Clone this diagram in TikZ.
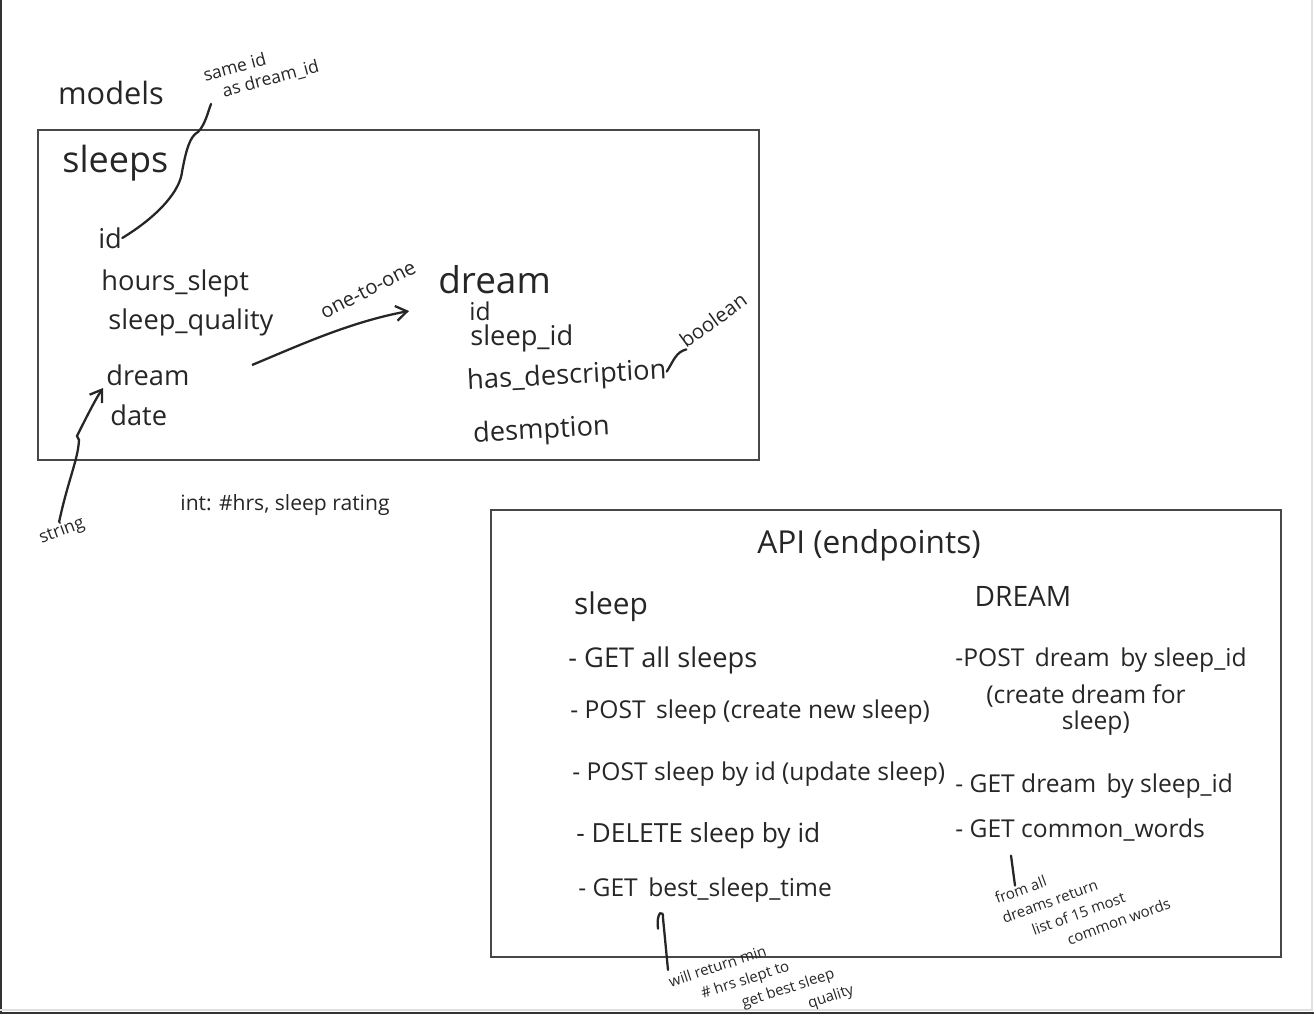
\documentclass[tikz,border=0pt]{standalone}
\usepackage{fontspec}
\setmainfont{Open Sans}
\usetikzlibrary{arrows.meta,positioning}

\begin{document}
\begin{tikzpicture}[x=0.02cm, y=-0.02cm,
  box/.style={draw=black!72, line width=1.2pt},
  title/.style={font=\fontsize{21}{23}\selectfont, text=black!85, inner sep=0pt},
  field/.style={font=\fontsize{15.5}{17}\selectfont, text=black!85, anchor=west, inner sep=0pt},
  item/.style={font=\fontsize{14}{15}\selectfont, text=black!85, anchor=west, inner sep=0pt},
  note/.style={font=\fontsize{8.5}{12}\selectfont, text=black!85, align=left, inner sep=0pt},
  arrow/.style={-{Straight Barb[length=2.2mm, width=3mm]}, line width=1.3pt, black!85},
  pen/.style={line width=1.3pt, black!85, line cap=round}
]
  \useasboundingbox (0,0) rectangle (1314,1014);
  % page edges
  \draw[black!80, line width=1.5pt] (1,0) -- (1,1014);
  \draw[black!80, line width=1.5pt] (0,1013) -- (1314,1013);
  \draw[black!12, line width=0.6pt] (1312,0) -- (1312,1010) -- (0,1010);

  % Boxes
  \draw[box] (38,130) rectangle (759,460);
  \draw[box] (491,510) rectangle (1281,957);

  % Models
  \node[title, font=\fontsize{17.5}{19}\selectfont] (models) at (111,93) {models};
  \node[note, font=\fontsize{10}{11.5}\selectfont, anchor=south west, rotate=15] (sameid) at (211,104)
    {same id\\\hspace*{0.8em}as dream\_id};
  \node[title, anchor=west, font=\fontsize{20.5}{23}\selectfont] (sleeps) at (62,163) {sleeps};

  \node[field] (sid) at (98,238) {id};
  \node[field] (hours) at (101,283) {hours\_slept};
  \node[field] (quality) at (108,322) {sleep\_quality};
  \node[field] (sdream) at (106,375) {dream};
  \node[field] (date) at (110,415) {date};

  \node[title, anchor=west] (dream) at (438,280) {dream};
  \node[field, font=\fontsize{14}{15}\selectfont] (did) at (469,311) {id};
  \node[field] (dsid) at (470,338) {sleep\_id};
  \node[field, rotate=3] (hasdesc) at (467,382) {has\_description};
  \node[field, rotate=3] (desc) at (473,435) {desmption};

  \node[note, font=\fontsize{11.5}{13}\selectfont, rotate=36] (boolean) at (713,320) {boolean};
  \node[note, font=\fontsize{11.5}{13}\selectfont, rotate=27] (onetoone) at (368,290) {one-to-one};
  \node[note, font=\fontsize{10}{12}\selectfont, rotate=20] (string) at (62,531) {string};
  \node[note, font=\fontsize{12}{13}\selectfont] (intnote) at (285,505) {int: \#hrs, sleep rating};

  % API endpoints
  \node[title, font=\fontsize{18}{20}\selectfont] (api) at (869,545) {API (endpoints)};
  \node[title, font=\fontsize{17}{19}\selectfont] (sleephead) at (611,607) {sleep};
  \node[title, font=\fontsize{16}{18}\selectfont] (dreamhead) at (1023,596) {DREAM};

  \node[item, font=\fontsize{15.5}{17}\selectfont] (getall) at (568,660) {- GET all sleeps};
  \node[item] (postsleep) at (570,712) {- POST\, sleep (create new sleep)};
  \node[item] (postid) at (572,774) {- POST sleep by id (update sleep)};
  \node[item, font=\fontsize{15}{17}\selectfont] (delete) at (576,836) {- DELETE sleep by id};
  \node[item] (getbest) at (578,890) {- GET\, best\_sleep\_time};

  \node[item] (postdream) at (955,660) {-POST\, dream\, by sleep\_id};
  \node[item, anchor=center, align=center, font=\fontsize{14}{14.5}\selectfont] (createdream) at (1086,710)
    {(create dream for\\\hspace*{0.8em}sleep)};
  \node[item] (getdream) at (955,786) {- GET dream\, by sleep\_id};
  \node[item] (getwords) at (955,830) {- GET common\_words};

  \node[note, rotate=20, anchor=north west] (wordsnote) at (993,893)
    {from all\\dreams return\\\hspace*{1.6em}list of 15 most\\\hspace*{3.6em}common words};
  \node[note, rotate=18, anchor=north west] (bestnote) at (667,976)
    {will return min\\\hspace*{1.8em}\# hrs slept to\\\hspace*{4.2em}get best sleep\\\hspace*{8.4em}quality};

  % Arrows
  \coordinate (relstart) at (252,365);
  \coordinate (relend) at (409,311);
  \draw[arrow] (relstart) .. controls (300,345) and (350,322) .. (relend);
  \coordinate (strtip) at (103,388);
  \draw[arrow] (string.north) .. controls (68,480) and (78,460) .. (79,440)
    -- (77,436) .. controls (85,420) and (95,400) .. (strtip);
  \draw[pen] (sid.east) .. controls (160,215) and (180,190) .. (182,172)
    .. controls (186,150) and (190,136) .. (198,132) .. controls (205,125) and (208,112) .. (sameid.south west);
  \draw[pen] (hasdesc.east) .. controls (674,360) and (676,352) .. (boolean.south west);
  \draw[pen] (getwords.south west) ++(56,14) coordinate (wtop) -- ++(4,30);
  \draw[pen] (getbest.south west) ++(80,26) coordinate (btop)
    .. controls (656,910) and (664,910) .. (663,918) -- (668,970);
\end{tikzpicture}
\end{document}
